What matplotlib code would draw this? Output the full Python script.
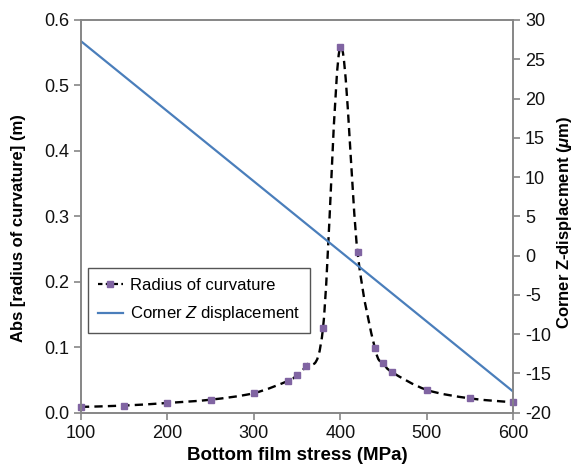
import matplotlib
matplotlib.use("Agg")
import matplotlib.pyplot as plt
from matplotlib.path import Path
from matplotlib.patches import PathPatch
from matplotlib.lines import Line2D
from matplotlib.ticker import FormatStrFormatter

plt.rcParams['font.family'] = ['Liberation Sans', 'DejaVu Sans']
plt.rcParams['axes.unicode_minus'] = False
plt.rcParams['mathtext.fontset'] = 'custom'
plt.rcParams['mathtext.it'] = 'Liberation Sans:italic'
plt.rcParams['mathtext.bf'] = 'Liberation Sans:bold:italic'

# Radius of curvature data
stress = [100, 150, 200, 250, 300, 340, 350, 360, 380, 400, 420, 440, 450, 460, 500, 550, 600]
radius = [0.009, 0.011, 0.015, 0.020, 0.030, 0.049, 0.058, 0.072, 0.129, 0.559,
          0.245, 0.099, 0.076, 0.062, 0.035, 0.022, 0.016]

# Corner Z displacement (straight line)
stress_z = [100, 600]
z_disp = [27.3, -17.3]

grey = '#868686'
purple = '#8064A2'
blue = '#4A7EBB'

fig = plt.figure(figsize=(5.74, 4.75), dpi=100)
ax = fig.add_axes([0.141, 0.131, 0.753, 0.827])
ax2 = ax.twinx()

# smoothed (Excel style) curve through the radius points, as cubic Bezier segments
pts = list(zip(stress, radius))
verts = [pts[0]]
codes = [Path.MOVETO]
for i in range(len(pts) - 1):
    p0 = pts[max(i - 1, 0)]
    p1 = pts[i]
    p2 = pts[i + 1]
    p3 = pts[min(i + 2, len(pts) - 1)]
    c1 = (p1[0] + (p2[0] - p0[0]) / 6, p1[1] + (p2[1] - p0[1]) / 6)
    c2 = (p2[0] - (p3[0] - p1[0]) / 6, p2[1] - (p3[1] - p1[1]) / 6)
    verts += [c1, c2, p2]
    codes += [Path.CURVE4] * 3
curve = PathPatch(Path(verts, codes), fill=False, edgecolor='black', lw=1.7,
                  linestyle=(0, (3.5, 2.2)), zorder=2)
ax.add_patch(curve)
ax.plot(stress, radius, ls='none', marker='s', ms=5, color=purple, zorder=3,
        clip_on=False)

ax2.plot(stress_z, z_disp, color=blue, lw=1.6)

ax.set_xlim(100, 600)
ax.set_ylim(0, 0.6)
ax2.set_ylim(-20, 30)
ax.set_xticks(range(100, 601, 100))
ax.set_yticks([0.0, 0.1, 0.2, 0.3, 0.4, 0.5, 0.6])
ax.yaxis.set_major_formatter(FormatStrFormatter('%.1f'))
ax2.set_yticks(range(-20, 31, 5))

for a in (ax, ax2):
    for s in a.spines.values():
        s.set_color(grey)
        s.set_linewidth(1.2)
    a.tick_params(direction='out', length=5, width=1.2, color=grey,
                  labelsize=13, labelcolor='#111111')

ax.set_xlabel('Bottom film stress (MPa)', fontsize=13.5, fontweight='bold', labelpad=4)
ax.set_ylabel('Abs [radius of curvature] (m)', fontsize=12, fontweight='bold')
ax2.set_ylabel(r'Corner Z-displacment ($\mathbf{\mu}$m)', fontsize=12, fontweight='bold')
ax.yaxis.set_label_coords(-0.126, 0.47)
ax2.yaxis.set_label_coords(1.096, 0.486)

h1 = Line2D([], [], color='black', lw=1.6, linestyle=(0, (2.0, 1.5)),
            marker='s', ms=5, mfc=purple, mec=purple)
h2 = Line2D([], [], color=blue, lw=1.6)
leg = ax2.legend([h1, h2], ['Radius of curvature', r'Corner $Z$ displacement'],
                 loc='upper left', bbox_to_anchor=(0.016, 0.369), borderaxespad=0,
                 fontsize=12, fancybox=False, framealpha=1, edgecolor='#555555',
                 handlelength=1.5, handletextpad=0.4, borderpad=0.6, labelspacing=0.7)
leg.get_frame().set_linewidth(1.0)

fig.savefig('out.png', dpi=100)
